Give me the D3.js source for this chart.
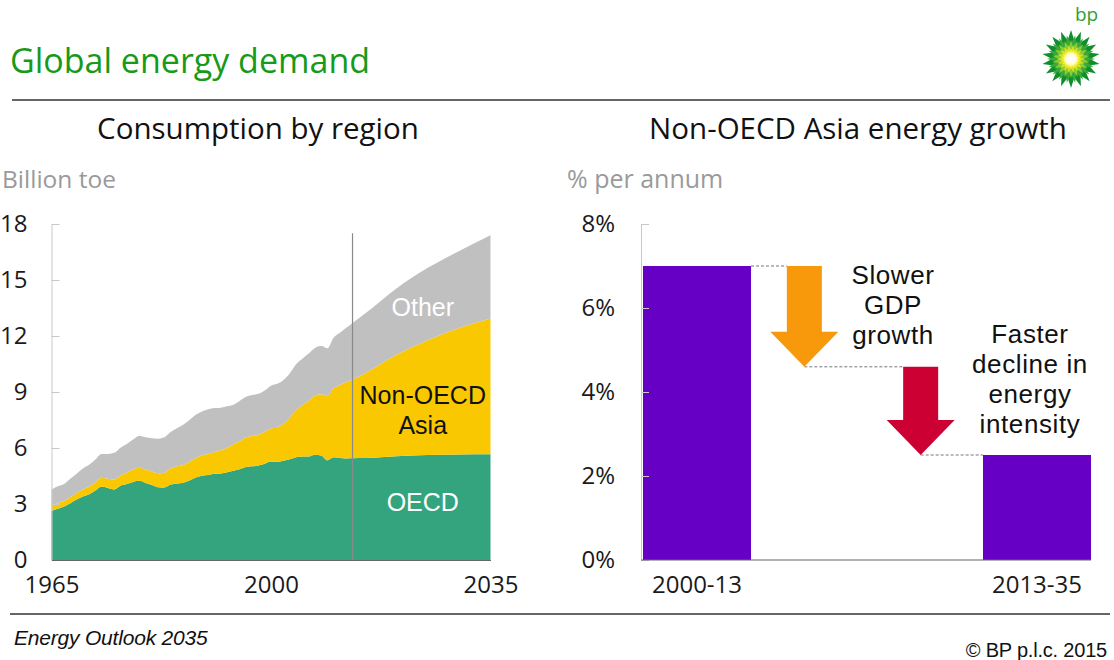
<!DOCTYPE html>
<html>
<head>
<meta charset="utf-8">
<script src="https://cdn.jsdelivr.net/npm/d3@7/dist/d3.min.js"></script>
<style>
  html, body { margin: 0; padding: 0; background: #fff; }
  svg { display: block; }
</style>
</head>
<body>
<svg id="chart" width="1114" height="660"></svg>
<script>
// ---- Consumption by region (billion toe) ----
const years = [
  1965,1966,1967,1968,1969,1970,1971,1972,1973,1974,1975,1976,1977,1978,1979,
  1980,1981,1982,1983,1984,1985,1986,1987,1988,1989,1990,1991,1992,1993,1994,
  1995,1996,1997,1998,1999,2000,2001,2002,2003,2004,2005,2006,2007,2008,2009,
  2010,2011,2012,2013,2015,2020,2025,2030,2035
];
const oecd = [
  2.62,2.74,2.86,3.04,3.24,3.40,3.52,3.72,3.94,3.86,3.78,3.98,4.07,4.18,4.24,
  4.12,4.02,3.90,3.88,4.04,4.10,4.14,4.26,4.42,4.52,4.56,4.62,4.64,4.70,4.78,
  4.86,4.98,5.02,5.06,5.16,5.28,5.26,5.32,5.40,5.50,5.54,5.54,5.64,5.60,5.34,
  5.50,5.46,5.44,5.45,5.46,5.56,5.62,5.65,5.66
];
const nonOecdAsia = [
  0.30,0.31,0.30,0.32,0.35,0.38,0.42,0.44,0.47,0.49,0.53,0.56,0.61,0.67,0.70,
  0.71,0.72,0.75,0.80,0.86,0.92,0.95,1.00,1.05,1.09,1.12,1.17,1.24,1.32,1.41,
  1.50,1.58,1.64,1.65,1.70,1.76,1.84,1.98,2.24,2.52,2.76,2.98,3.16,3.28,3.48,
  3.70,3.92,4.08,4.22,4.55,5.42,6.15,6.78,7.28
];
const other = [
  0.86,0.90,0.91,0.99,1.03,1.12,1.16,1.22,1.27,1.33,1.43,1.48,1.54,1.60,1.70,
  1.75,1.78,1.85,1.90,1.96,2.04,2.15,2.24,2.31,2.35,2.40,2.35,2.28,2.22,2.13,
  2.16,2.18,2.18,2.19,2.22,2.30,2.34,2.34,2.36,2.46,2.48,2.54,2.56,2.58,2.52,
  2.72,2.80,2.92,3.03,3.19,3.57,3.88,4.12,4.46
];
const regionKeys = ["OECD", "Non-OECD Asia", "Other"];
const yearTicks = [1965, 2000, 2035];
const toeTicks = [0, 3, 6, 9, 12, 15, 18];
const lastActualYear = 2013;

// ---- Non-OECD Asia energy growth (% per annum) ----
const periods = ["2000-13", "2013-35"];
const growth = [7.0, 2.5];
const drivers = ["Slower GDP growth", "Faster decline in energy intensity"];
const driverLines = [["Slower", "GDP", "growth"], ["Faster", "decline in", "energy", "intensity"]];
const driverSteps = [-2.4, -2.1];
const pctTicks = [0, 2, 4, 6, 8];

const FONT = "'Open Sans', 'Noto Sans', sans-serif";
const LABEL_FONT = "'Liberation Sans', Arial, sans-serif";
const svg = d3.select("#chart");
svg.append("rect").attr("width", 1114).attr("height", 660).attr("fill", "#fff");

// ---- header ----
svg.append("text").attr("x", 10).attr("y", 73)
  .attr("font-family", FONT).attr("font-size", 34).attr("fill", "#179a17")
  .text("Global energy demand");
svg.append("line").attr("x1", 12).attr("x2", 1110).attr("y1", 100).attr("y2", 100)
  .attr("stroke", "#333").attr("stroke-width", 1.5);

// bp helios mark
const logo = svg.append("g").attr("transform", "translate(1071,59)");
const rings = [
  { ro: 29, ri: 19, n: 18, rot: 0, fill: "#0f8f2c" },
  { ro: 24, ri: 15, n: 18, rot: Math.PI / 18, fill: "#3aa83a" },
  { ro: 19, ri: 12, n: 18, rot: 0, fill: "#8bcb35" },
  { ro: 14, ri: 9, n: 18, rot: Math.PI / 18, fill: "#d9e41e" },
  { ro: 10, ri: 7, n: 18, rot: 0, fill: "#fbf23a" }
];
rings.forEach(r => {
  const pts = d3.range(r.n * 2).map(i => [r.rot + i * Math.PI / r.n, i % 2 === 0 ? r.ro : r.ri]);
  logo.append("path").attr("d", d3.lineRadial().curve(d3.curveLinearClosed)(pts)).attr("fill", r.fill);
});
const grad = svg.append("defs").append("radialGradient").attr("id", "sun");
grad.append("stop").attr("offset", "0%").attr("stop-color", "#ffffff");
grad.append("stop").attr("offset", "70%").attr("stop-color", "#fffbe0");
grad.append("stop").attr("offset", "100%").attr("stop-color", "#fbf23a");
logo.append("circle").attr("r", 7.5).attr("fill", "url(#sun)");
svg.append("text").attr("x", 1075).attr("y", 21)
  .attr("font-family", FONT).attr("font-size", 19).attr("fill", "#2f9e37")
  .text("bp");

// ---- panel titles ----
svg.append("text").attr("x", 258).attr("y", 139).attr("text-anchor", "middle")
  .attr("font-family", FONT).attr("font-size", 29.5).attr("fill", "#111")
  .text("Consumption by region");
svg.append("text").attr("x", 858).attr("y", 139).attr("text-anchor", "middle")
  .attr("font-family", FONT).attr("font-size", 29.5).attr("fill", "#111")
  .text("Non-OECD Asia energy growth");
svg.append("text").attr("x", 2).attr("y", 188)
  .attr("font-family", FONT).attr("font-size", 24.5).attr("fill", "#9a9a9a")
  .text("Billion toe");
svg.append("text").attr("x", 567).attr("y", 188)
  .attr("font-family", FONT).attr("font-size", 25).attr("fill", "#9a9a9a")
  .text("% per annum");

// ---- left: stacked area ----
const x = d3.scaleLinear().domain([1965, 2035]).range([51.5, 490.5]);
const y = d3.scaleLinear().domain([0, 18]).range([560, 224]);

const rows = years.map((yr, i) => ({
  year: yr, "OECD": oecd[i], "Non-OECD Asia": nonOecdAsia[i], "Other": other[i]
}));
const stacked = d3.stack().keys(regionKeys)(rows);
const regionColor = { "OECD": "#33a47d", "Non-OECD Asia": "#fac800", "Other": "#c0c0c0" };
const area = d3.area()
  .curve(d3.curveMonotoneX)
  .x(d => x(d.data.year))
  .y0(d => y(d[0]))
  .y1(d => y(d[1]));

const left = svg.append("g");
left.selectAll("path.layer").data(stacked).join("path")
  .attr("class", "layer")
  .attr("d", area)
  .attr("fill", d => regionColor[d.key]);

// divider between history and projection
left.append("line")
  .attr("x1", x(lastActualYear)).attr("x2", x(lastActualYear))
  .attr("y1", y(17.5)).attr("y2", y(0))
  .attr("stroke", "#8a8a8a").attr("stroke-width", 1.2);

const yAxisL = d3.axisLeft(y).tickValues(toeTicks).tickSizeInner(-8).tickSizeOuter(0).tickPadding(24);
const gyL = left.append("g").attr("transform", `translate(${x(1965)},0)`).call(yAxisL);
gyL.select(".domain").attr("stroke", "#c8c8c8");
gyL.selectAll(".tick line").attr("stroke", "#c8c8c8");
gyL.selectAll("text").attr("font-family", FONT).attr("font-size", 24).attr("fill", "#1a1a1a");

const xAxisL = d3.axisBottom(x).tickValues(yearTicks).tickFormat(d3.format("d")).tickSize(0).tickPadding(16);
const gxL = left.append("g").attr("transform", `translate(0,${y(0)})`).call(xAxisL);
gxL.select(".domain").attr("stroke", "#666").attr("stroke-width", 1.2);
gxL.selectAll("text").attr("font-family", FONT).attr("font-size", 24).attr("fill", "#1a1a1a");

// region labels
const regionLabels = [
  { text: "Other", yv: 13.05, fill: "#fff" },
  { text: "Non-OECD", yv: 8.36, fill: "#111" },
  { text: "Asia", yv: 6.75, fill: "#111" },
  { text: "OECD", yv: 2.62, fill: "#fff" }
];
left.selectAll("text.region").data(regionLabels).join("text")
  .attr("class", "region")
  .attr("x", x(2024.2)).attr("y", d => y(d.yv))
  .attr("text-anchor", "middle")
  .attr("font-family", LABEL_FONT).attr("font-size", 25)
  .attr("fill", d => d.fill)
  .text(d => d.text);

// ---- right: growth waterfall ----
const steps = [periods[0], ...drivers, periods[1]];
const xb = d3.scaleBand().domain(steps).range([643, 1091]).paddingInner(0.047).paddingOuter(0);
const yp = d3.scaleLinear().domain([0, 8]).range([560, 224]);

const right = svg.append("g");
right.selectAll("rect.bar").data(periods).join("rect")
  .attr("class", "bar")
  .attr("x", d => xb(d))
  .attr("width", xb.bandwidth())
  .attr("y", (d, i) => yp(growth[i]))
  .attr("height", (d, i) => yp(0) - yp(growth[i]))
  .attr("fill", "#6600c4");

// running level before/after each driver
const levels = [growth[0]];
driverSteps.forEach(s => levels.push(+(levels[levels.length - 1] + s).toFixed(2)));

const shaftW = 35, headW = 68, headL = 35;
const arrowColors = ["#f7990a", "#cc0033"];
const arrowX = (d, i) => xb(d) + xb.bandwidth() / 2 - (i === 0 ? 6 : 3);

function arrowPath(cx, yTop, yTip) {
  const yh = yTip - headL;
  return d3.line()([
    [cx - shaftW / 2, yTop], [cx + shaftW / 2, yTop], [cx + shaftW / 2, yh],
    [cx + headW / 2, yh], [cx, yTip], [cx - headW / 2, yh], [cx - shaftW / 2, yh]
  ]) + "Z";
}

// dashed connectors
const connectors = [
  { x1: xb(periods[0]) + xb.bandwidth(), x2: arrowX(drivers[0], 0) - shaftW / 2, v: levels[0] },
  { x1: arrowX(drivers[0], 0), x2: arrowX(drivers[1], 1) - shaftW / 2, v: levels[1] },
  { x1: arrowX(drivers[1], 1), x2: xb(periods[1]), v: levels[2] }
];
right.selectAll("line.conn").data(connectors).join("line")
  .attr("class", "conn")
  .attr("x1", d => d.x1).attr("x2", d => d.x2)
  .attr("y1", d => yp(d.v)).attr("y2", d => yp(d.v))
  .attr("stroke", "#777").attr("stroke-width", 1).attr("stroke-dasharray", "3,2");

right.selectAll("path.arrow").data(drivers).join("path")
  .attr("class", "arrow")
  .attr("d", (d, i) => arrowPath(arrowX(d, i), yp(levels[i]), yp(levels[i + 1])))
  .attr("fill", (d, i) => arrowColors[i]);

// driver captions
const captionPos = [{ cx: 893, y0: 284 }, { cx: 1030, y0: 343 }];
driverLines.forEach((lines, i) => {
  right.append("text")
    .attr("text-anchor", "middle")
    .attr("font-family", LABEL_FONT).attr("font-size", 26).attr("letter-spacing", 0.6)
    .attr("fill", "#111")
    .selectAll("tspan").data(lines).join("tspan")
    .attr("x", captionPos[i].cx)
    .attr("y", (d, j) => captionPos[i].y0 + j * 30)
    .text(d => d);
});

const yAxisR = d3.axisLeft(yp).tickValues(pctTicks).tickFormat(d => d + "%")
  .tickSizeInner(-8).tickSizeOuter(0).tickPadding(26);
const gyR = right.append("g").attr("transform", "translate(641,0)").call(yAxisR);
gyR.select(".domain").attr("stroke", "#c8c8c8");
gyR.selectAll(".tick line").attr("stroke", "#c8c8c8");
gyR.selectAll("text").attr("font-family", FONT).attr("font-size", 24).attr("fill", "#1a1a1a");

right.append("line").attr("x1", 641).attr("x2", 1091).attr("y1", yp(0)).attr("y2", yp(0))
  .attr("stroke", "#666").attr("stroke-width", 1.2);
right.selectAll("text.period").data(periods).join("text")
  .attr("class", "period")
  .attr("x", d => xb(d) + xb.bandwidth() / 2)
  .attr("y", 593)
  .attr("text-anchor", "middle")
  .attr("font-family", FONT).attr("font-size", 24).attr("fill", "#1a1a1a")
  .text(d => d);

// ---- footer ----
svg.append("line").attr("x1", 10).attr("x2", 1110).attr("y1", 614).attr("y2", 614)
  .attr("stroke", "#333").attr("stroke-width", 1.5);
svg.append("text").attr("x", 14).attr("y", 645)
  .attr("font-family", LABEL_FONT).attr("font-style", "italic")
  .attr("font-size", 21).attr("letter-spacing", -0.2).attr("fill", "#111")
  .text("Energy Outlook 2035");
svg.append("text").attr("x", 1107).attr("y", 657).attr("text-anchor", "end")
  .attr("font-family", LABEL_FONT)
  .attr("font-size", 20).attr("letter-spacing", -0.2).attr("fill", "#111")
  .text("© BP p.l.c. 2015");
</script>
</body>
</html>
